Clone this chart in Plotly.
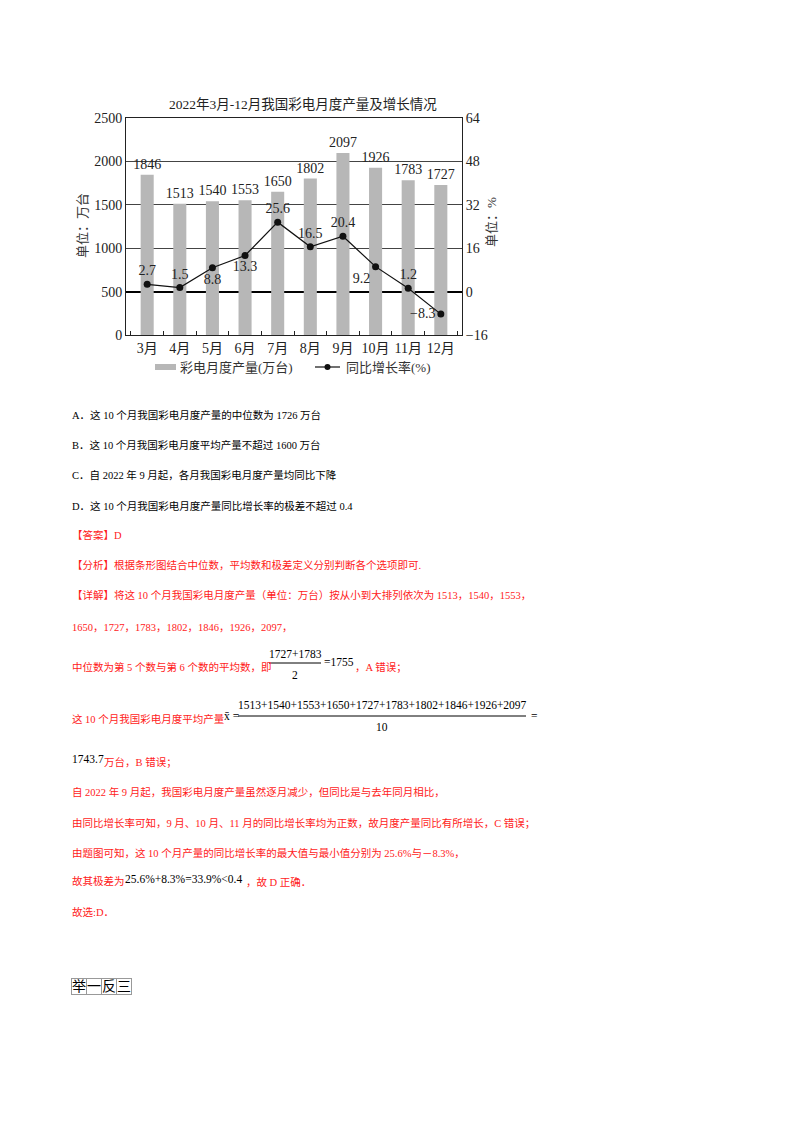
import plotly.graph_objects as go

# chart data
months = ["3月", "4月", "5月", "6月", "7月", "8月", "9月", "10月", "11月", "12月"]
output = [1846, 1513, 1540, 1553, 1650, 1802, 2097, 1926, 1783, 1727]
growth = [2.7, 1.5, 8.8, 13.3, 25.6, 16.5, 20.4, 9.2, 1.2, -8.3]
growth_pos = ["top center", "top center", "bottom center", "bottom center", "top center",
              "top center", "top center", "bottom left", "top center", "middle left"]
left_ticks = [0, 500, 1000, 1500, 2000, 2500]
right_ticks = [-16, 0, 16, 32, 48, 64]
legend_names = ["彩电月度产量(万台)", "同比增长率(%)"]

OFF = 8  # page body margin
W, H = 800 - 2 * OFF, 1132 - 2 * OFF
L, R, T, B = 126, 462, 118, 335  # plot area in page pixels

SERIF = "Liberation Serif, Noto Sans CJK SC, serif"
CJK = "Liberation Serif, Noto Sans CJK SC"
RED = "#ff1a1a"
BODY = 10.5


def px(x, y):
    """Page pixel -> paper coordinates."""
    return (x - L) / (R - L), (B - y) / (B - T)


fig = go.Figure()

fig.add_trace(go.Bar(
    x=months, y=output, name=legend_names[0],
    marker=dict(color="#b7b7b7", line=dict(width=0)),
    width=0.4,
    text=[str(v) for v in output], textposition="outside", constraintext="none",
    textfont=dict(family=SERIF, size=14, color="#222"),
    cliponaxis=False, showlegend=False,
))
fig.add_trace(go.Scatter(
    x=months, y=growth, name=legend_names[1], yaxis="y2",
    mode="lines+markers+text",
    line=dict(color="#111", width=1.2),
    marker=dict(color="#111", size=7),
    text=[f"{v:.1f}".replace("-", "−") for v in growth],
    textposition=growth_pos,
    textfont=dict(family=SERIF, size=14, color="#222"),
    cliponaxis=False, showlegend=False,
))

annotations = []


def note(x, y, text, size=BODY, color="black", anchor="left", **kw):
    ax, ay = px(x, y)
    annotations.append(dict(
        x=ax, y=ay, xref="paper", yref="paper", text=text, showarrow=False,
        xanchor=anchor, yanchor="middle",
        font=dict(family=CJK, size=size, color=color), **kw))


# chart title and axis titles
note(303, 104, "2022年3月-12月我国彩电月度产量及增长情况", size=13.5, color="#222", anchor="center")
note(82, 226, "单位：万台", size=13, color="#333", anchor="center", textangle=-90)
note(491, 222, "单位：%", size=13, color="#333", anchor="center", textangle=-90)

# legend drawn by hand (wide bar swatch, line with dot)
note(178, 367, legend_names[0], size=13, color="#333")
note(344, 367, legend_names[1], size=13, color="#333")

# question options
note(70, 415, "A．这 10 个月我国彩电月度产量的中位数为 1726 万台")
note(70, 445, "B．这 10 个月我国彩电月度平均产量不超过 1600 万台")
note(70, 475, "C．自 2022 年 9 月起，各月我国彩电月度产量均同比下降")
note(70, 506, "D．这 10 个月我国彩电月度产量同比增长率的极差不超过 0.4")

# answer and explanation
note(70, 535, "【答案】D", color=RED)
note(70, 565, "【分析】根据条形图结合中位数，平均数和极差定义分别判断各个选项即可.", color=RED)
note(70, 595, "【详解】将这 10 个月我国彩电月度产量（单位：万台）按从小到大排列依次为 1513，1540，1553，", color=RED)
note(70, 627, "1650，1727，1783，1802，1846，1926，2097，", color=RED)
note(70, 667, "中位数为第 5 个数与第 6 个数的平均数，即", color=RED)
note(295, 654, "1727+1783", size=11.5, anchor="center")
note(295, 675, "2", size=11.5, anchor="center")
note(322, 662, "=1755", size=11.5)
note(353, 667, "，A 错误；", color=RED)
note(70, 719, "这 10 个月我国彩电月度平均产量", color=RED)
note(222, 716, "x̄ =", size=11.5)
note(382, 705, "1513+1540+1553+1650+1727+1783+1802+1846+1926+2097", size=11.5, anchor="center")
note(382, 727, "10", size=11.5, anchor="center")
note(529, 716, "=", size=11.5)
note(70, 759, "1743.7", size=11.5)
note(102, 762, "万台，B 错误；", color=RED)
note(70, 792, "自 2022 年 9 月起，我国彩电月度产量虽然逐月减少，但同比是与去年同月相比，", color=RED)
note(70, 823, "由同比增长率可知，9 月、10 月、11 月的同比增长率均为正数，故月度产量同比有所增长，C 错误；", color=RED)
note(70, 853, "由题图可知，这 10 个月产量的同比增长率的最大值与最小值分别为 25.6%与－8.3%，", color=RED)
note(70, 881, "故其极差为", color=RED)
note(123, 879, "25.6%+8.3%=33.9%<0.4", size=11.5)
note(244, 882, "，故 D 正确．", color=RED)
note(70, 912, "故选:D．", color=RED)

# boxed heading
for i, ch in enumerate("举一反三"):
    note(71 + i * 15, 986, ch, size=14, bordercolor="#999", borderwidth=1, borderpad=0)


def hline(x0, x1, y, color="black", width=1):
    a0, b0 = px(x0, y)
    a1, _ = px(x1, y)
    return dict(type="line", xref="paper", yref="paper", x0=a0, x1=a1, y0=b0, y1=b0,
                line=dict(color=color, width=width))


sw0, sy0 = px(155, 364)
sw1, sy1 = px(176, 370)
dx0, dy0 = px(324.5, 364)
dx1, dy1 = px(330.5, 370)
shapes = [
    hline(269, 321, 663),
    hline(238, 526, 716),
    dict(type="rect", xref="paper", yref="paper", x0=sw0, x1=sw1, y0=sy0, y1=sy1,
         fillcolor="#b7b7b7", line=dict(width=0)),
    hline(315, 340, 367, color="#111", width=1.2),
    dict(type="circle", xref="paper", yref="paper", x0=dx0, x1=dx1, y0=dy0, y1=dy1,
         fillcolor="#111", line=dict(width=0)),
]

fig.update_layout(
    width=W, height=H,
    margin=dict(l=L - OFF, r=W - (R - OFF), t=T - OFF, b=H - (B - OFF), pad=0),
    paper_bgcolor="white", plot_bgcolor="white",
    showlegend=False,
    bargap=0.6,
    xaxis=dict(
        type="category", showline=True, linecolor="#222", linewidth=1, mirror=True,
        ticks="inside", tickson="boundaries", ticklen=4, tickcolor="#222", tickangle=0,
        tickfont=dict(family=SERIF, size=14, color="#222"), showgrid=False,
    ),
    yaxis=dict(
        range=[0, 2500], tickvals=left_ticks, showline=True, linecolor="#222", linewidth=1,
        showgrid=True, gridcolor="#444", gridwidth=1, zeroline=False, ticks="",
        tickfont=dict(family=SERIF, size=14, color="#222"),
    ),
    yaxis2=dict(
        range=[-16, 64], tickvals=right_ticks, overlaying="y", side="right",
        showline=True, linecolor="#222", linewidth=1, showgrid=False,
        zeroline=True, zerolinecolor="#000", zerolinewidth=1.5, ticks="",
        tickfont=dict(family=SERIF, size=14, color="#222"),
    ),
    annotations=annotations,
    shapes=shapes,
)

fig.write_html("out.html")
